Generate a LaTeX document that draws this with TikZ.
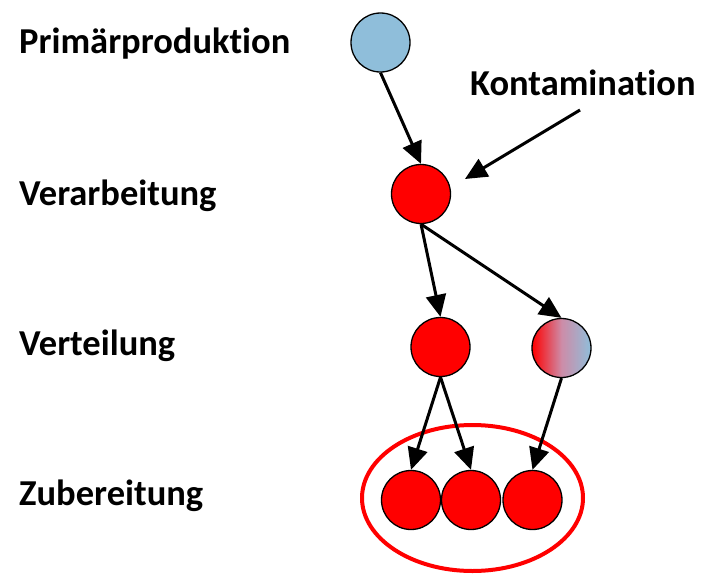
\documentclass[tikz,border=0pt]{standalone}
\usepackage{fontspec}
\setmainfont[Ligatures=NoCommon]{Carlito}
\usetikzlibrary{arrows.meta,shapes.geometric}
\definecolor{lblue}{RGB}{143,190,218}
\definecolor{mauve}{RGB}{205,140,168}
\begin{document}
\begin{tikzpicture}[x=1pt,y=-1pt,
  lbl/.style={anchor=base west,inner sep=0pt,font=\fontsize{36.5}{42}\selectfont\bfseries},
  dot/.style={circle,draw=black,line width=1.3pt,minimum size=59pt,inner sep=0pt},
  reddot/.style={dot,fill=red},
  arr/.style={line width=3pt,-{Triangle[length=22pt,width=20pt]}}]
\useasboundingbox (0,0) rectangle (705,574);
\node[lbl] (t1) at (19,53) {Primärproduktion};
\node[lbl] (t2) at (19,205) {Verarbeitung};
\node[lbl] (t3) at (19,355) {Verteilung};
\node[lbl] (t4) at (19,505) {Zubereitung};
\node[lbl] (tk) at (470,95) {Kontamination};
\node[dot,fill=lblue] (p) at (380.5,42.5) {};
\node[reddot] (v) at (421,194) {};
\node[reddot] (r) at (440.5,347) {};
\node[dot,left color=red,right color=lblue,middle color=mauve] (g) at (561.5,348) {};
\node[reddot] (b1) at (411,500) {};
\node[reddot] (b2) at (471,500) {};
\node[reddot] (b3) at (532.5,500) {};
\node[draw=red,line width=4pt,ellipse,minimum width=221pt,minimum height=146pt,inner sep=0pt] (e) at (472.5,498) {};
\coordinate (ks) at (580,110);
\coordinate (ke) at (465,179);
\draw[arr] (p.south) -- (v.north);
\draw[arr] (ks) -- (ke);
\draw[arr] (v.south) -- (r.north);
\draw[arr] (v.south) -- (g.north);
\draw[arr] (r.south) -- (b1.north);
\draw[arr] (r.south) -- (b2.north);
\draw[arr] (g.south) -- (b3.north);
\end{tikzpicture}
\end{document}
